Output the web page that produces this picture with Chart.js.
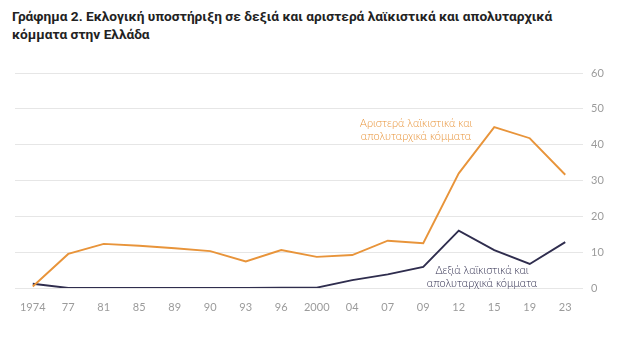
<!DOCTYPE html>
<html>
<head>
<meta charset="utf-8">
<script src="https://cdn.jsdelivr.net/npm/chart.js@4"></script>
<style>
  html, body { margin: 0; padding: 0; background: #fff; }
  #wrap { position: relative; width: 624px; height: 338px; overflow: hidden; }
  #title {
    position: absolute; left: 12px; top: 7px; width: 610px;
    font-family: Roboto, sans-serif; font-weight: 700; font-size: 13.7px;
    line-height: 18px; color: #222;
  }
  canvas { position: absolute; left: 0; top: 0; }
</style>
</head>
<body>
<div id="wrap">
  <div id="title">Γράφημα 2. Εκλογική υποστήριξη σε δεξιά και αριστερά λαϊκιστικά και απολυταρχικά<br>κόμματα στην Ελλάδα</div>
  <canvas id="chart" width="624" height="338"></canvas>
</div>
<script>
// election years as printed on the axis
const years = ['1974','77','81','85','89','90','93','96','2000','04','07','09','12','15','19','23'];
// left populist / authoritarian parties (%)
const leftValues = [0.4, 9.5, 12.3, 11.8, 11.1, 10.3, 7.4, 10.6, 8.7, 9.2, 13.2, 12.5, 32.0, 44.9, 41.8, 31.6];
// right populist / authoritarian parties (%)
const rightValues = [1.2, 0, 0, 0, 0, 0, 0, 0.1, 0.1, 2.2, 3.8, 5.9, 16.0, 10.6, 6.7, 12.8];
const yTicks = [0, 10, 20, 30, 40, 50, 60];

const orange = '#E8943A';
const navy = '#2F2D4E';
const tickGrey = '#9b9b9b';

// the two in-chart labels
const seriesLabels = {
  id: 'seriesLabels',
  afterDatasetsDraw(chart) {
    const c = chart.ctx;
    c.save();
    c.font = '300 11px Lato, sans-serif';
    c.textAlign = 'center';
    c.textBaseline = 'middle';
    c.fillStyle = orange;
    c.fillText('Αριστερά λαϊκιστικά και', 416, 123);
    c.fillText('απολυταρχικά κόμματα', 416, 136);
    c.fillStyle = navy;
    c.fillText('Δεξιά λαϊκιστικά και', 482, 270);
    c.fillText('απολυταρχικά κόμματα', 482, 283);
    c.restore();
  }
};

new Chart(document.getElementById('chart'), {
  type: 'line',
  data: {
    labels: years,
    datasets: [
      { label: 'Αριστερά', data: leftValues, borderColor: orange, borderWidth: 1.9, pointRadius: 0, tension: 0 },
      { label: 'Δεξιά', data: rightValues, borderColor: navy, borderWidth: 1.9, pointRadius: 0, tension: 0 }
    ]
  },
  options: {
    responsive: false,
    animation: false,
    layout: { padding: { left: 15, top: 73, right: 0, bottom: 0 } },
    plugins: { legend: { display: false }, tooltip: { enabled: false } },
    scales: {
      x: {
        offset: true,
        grid: { display: false },
        border: { display: false },
        ticks: { color: tickGrey, font: { family: 'Lato', size: 11 }, padding: 5, maxRotation: 0, autoSkip: false },
        afterFit: s => { s.height = 50; }
      },
      y: {
        position: 'right',
        min: 0, max: 60,
        afterBuildTicks: s => { s.ticks = yTicks.map(v => ({ value: v })); },
        grid: { color: '#e6e6e6', lineWidth: 1, drawTicks: false },
        border: { display: false },
        ticks: { color: tickGrey, font: { family: 'Lato', size: 11 }, padding: 8 },
        afterFit: s => { s.width = 41; }
      }
    }
  },
  plugins: [seriesLabels]
});
</script>
</body>
</html>
